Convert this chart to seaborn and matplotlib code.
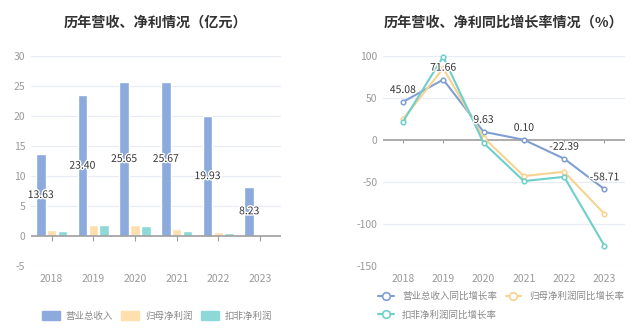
import matplotlib
matplotlib.use("Agg")
import matplotlib.pyplot as plt
import seaborn as sns
import pandas as pd
from matplotlib.patches import FancyBboxPatch
from matplotlib.lines import Line2D
import matplotlib.patheffects as pe

years = ["2018", "2019", "2020", "2021", "2022", "2023"]
revenue = [13.63, 23.40, 25.65, 25.67, 19.93, 8.23]
net_profit = [1.00, 1.80, 1.85, 1.10, 0.65, 0.10]
net_profit_deducted = [0.85, 1.75, 1.65, 0.85, 0.45, 0.05]
bar_series = ["营业总收入", "归母净利润", "扣非净利润"]

rev_growth = [45.08, 71.66, 9.63, 0.10, -22.39, -58.71]
np_growth = [24.4, 85.0, 2.8, -43.0, -38.0, -88.0]
npd_growth = [21.5, 99.0, -3.6, -49.0, -44.0, -126.0]
line_series = ["营业总收入同比增长率", "归母净利润同比增长率", "扣非净利润同比增长率"]

left_yticks = [-5, 0, 5, 10, 15, 20, 25, 30]
right_yticks = [-150, -100, -50, 0, 50, 100]

bar_colors = ["#8CAADB", "#FFDFAE", "#8ED8D8"]
line_colors = ["#7F9FD4", "#F8D290", "#6DCFCB"]

sns.set_theme(style="white")
plt.rcParams["font.family"] = ["Noto Sans CJK SC", "DejaVu Sans"]
plt.rcParams["axes.unicode_minus"] = False

fig = plt.figure(figsize=(6.4, 3.28), dpi=100)
ax1 = fig.add_axes([0.048, 0.189, 0.391, 0.641])
ax2 = fig.add_axes([0.598, 0.189, 0.378, 0.641])

grid_c = "#E6EBF5"
tick_c = "#9A9A9A"

# ---- left bar chart ----
df_bar = pd.DataFrame({
    "year": years * 3,
    "value": revenue + net_profit + net_profit_deducted,
    "series": [bar_series[0]] * 6 + [bar_series[1]] * 6 + [bar_series[2]] * 6,
})
sns.barplot(data=df_bar, x="year", y="value", hue="series", palette=bar_colors,
            ax=ax1, width=0.78, gap=0.12, legend=False, zorder=3, saturation=1)
ax1.set_ylim(-5, 30)
ax1.set_xlim(-0.5, 5.5)
ax1.set_yticks(left_yticks)
for y in left_yticks:
    if y != 0:
        ax1.axhline(y, color=grid_c, lw=0.8, zorder=0)
ax1.axhline(0, color="#9E9E9E", lw=1.2, zorder=4)
ax1.vlines(range(len(years)), -0.9, 0, color="#9E9E9E", lw=0.8, zorder=4)

blue_bars = ax1.containers[0]
for rect, v in zip(blue_bars, revenue):
    cx = rect.get_x() + rect.get_width() / 2
    ax1.text(cx, v / 2, f"{v:.2f}", ha="center", va="center", fontsize=7.5,
             color="#333333", zorder=6,
             path_effects=[pe.withStroke(linewidth=2, foreground="white")])

ax1.set_title("历年营收、净利情况（亿元）", fontsize=10.2, fontweight="bold",
              color="#333333", pad=21)

# ---- right line chart ----
df_line = pd.DataFrame({
    "year": years * 3,
    "value": rev_growth + np_growth + npd_growth,
    "series": [line_series[0]] * 6 + [line_series[1]] * 6 + [line_series[2]] * 6,
})
sns.lineplot(data=df_line, x="year", y="value", hue="series", palette=line_colors,
             ax=ax2, marker="o", markersize=3.3, markerfacecolor="white",
             markeredgewidth=1.1, linewidth=1.5, legend=False, zorder=3, sort=False)
for ln in ax2.get_lines():
    ln.set_markeredgecolor(ln.get_color())
    ln.set_markerfacecolor("white")
    ln.set_clip_on(False)
ax2.set_ylim(-150, 100)
ax2.set_xlim(-0.5, 5.5)
ax2.set_yticks(right_yticks)
for y in right_yticks:
    if y != 0:
        ax2.axhline(y, color=grid_c, lw=0.8, zorder=0)
ax2.axhline(0, color="#9E9E9E", lw=1.2, zorder=1)
ax2.vlines(range(len(years)), -4, 0, color="#9E9E9E", lw=0.8, zorder=1)

for i, v in enumerate(rev_growth):
    ax2.annotate(f"{v:.2f}", (i, v), xytext=(0, 5), textcoords="offset points",
                 ha="center", va="bottom", fontsize=7.5, color="#333333", zorder=6,
                 path_effects=[pe.withStroke(linewidth=2, foreground="white")])

ax2.set_title("历年营收、净利同比增长率情况（%）", fontsize=10.2, fontweight="bold",
              color="#333333", pad=21)

for ax in (ax1, ax2):
    for s in ax.spines.values():
        s.set_visible(False)
    ax.set_xlabel("")
    ax.set_ylabel("")
    ax.tick_params(axis="both", length=0, labelsize=7.5, colors=tick_c, pad=4)
    ax.tick_params(axis="x", pad=6)
    ax.set_xticks(range(len(years)))
    ax.set_xticklabels(years)

# legends
bar_handles = [FancyBboxPatch((0, 0), 1, 1, boxstyle="round,pad=0.1", color=c)
               for c in bar_colors]
fig.legend(bar_handles, bar_series, loc="center", bbox_to_anchor=(0.245, 0.037),
           ncol=3, frameon=False, fontsize=6.8, labelcolor="#888888",
           handlelength=1.9, handleheight=1.1, columnspacing=0.9, handletextpad=0.6)

line_handles = [Line2D([0], [0], color=c, lw=1.5, marker="o", markersize=5.5,
                       markerfacecolor="white", markeredgewidth=1.2)
                for c in line_colors]
order = [0, 2, 1]
fig.legend([line_handles[i] for i in order], [line_series[i] for i in order],
           loc="upper left", bbox_to_anchor=(0.578, 0.138), ncol=2, frameon=False,
           fontsize=6.8, labelcolor="#888888", handlelength=1.6,
           columnspacing=0.9, handletextpad=0.9, labelspacing=0.95)

fig.savefig("out.png", dpi=100)
